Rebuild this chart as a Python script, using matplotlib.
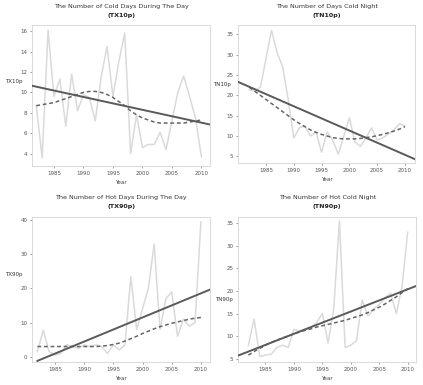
import matplotlib
matplotlib.use("Agg")
import matplotlib.pyplot as plt
import numpy as np

years = list(range(1982, 2011))

# TX10p - cold days
tx10p = [8.7, 3.6, 16.1, 9.6, 11.3, 6.7, 11.8, 8.2, 9.8, 9.5, 7.2, 11.5, 14.5, 9.6,
         13.0, 15.8, 4.0, 7.8, 4.6, 4.9, 4.9, 6.1, 4.4, 7.2, 10.0, 11.6, 9.6, 7.5, 3.7]
tx10p_smooth = [8.7, 8.8, 8.9, 9.0, 9.2, 9.4, 9.6, 9.8, 10.0, 10.1, 10.1, 10.0, 9.8, 9.5,
                9.1, 8.7, 8.2, 7.8, 7.5, 7.3, 7.1, 7.0, 7.0, 7.0, 7.0, 7.0, 7.1, 7.2, 7.3]
tx10p_trend = [10.65, 6.85]   # at trend_x ends
tx10p_trend_x = [1981.3, 2011.5]

# TN10p - cold nights
tn10p = [21.4, 21.0, 22.0, 29.0, 36.0, 30.5, 27.0, 19.0, 9.5, 12.0, 12.5, 10.0, 11.0, 6.0,
         11.0, 9.0, 5.5, 10.0, 14.5, 8.5, 7.5, 9.5, 12.0, 9.0, 9.5, 10.5, 11.5, 13.0, 12.5]
tn10p_smooth = [22.0, 21.0, 20.0, 19.0, 18.0, 17.0, 16.0, 15.0, 14.0, 13.1, 12.3, 11.5, 10.9, 10.4,
                10.0, 9.6, 9.4, 9.3, 9.3, 9.3, 9.4, 9.6, 9.8, 10.1, 10.4, 10.8, 11.2, 11.7, 12.3]
tn10p_trend = [23.3, 4.3]
tn10p_trend_x = [1980.0, 2011.8]

# TX90p - hot days
tx90p = [1.5, 7.8, 1.5, 0.5, 1.0, 3.5, 3.0, 2.5, 3.5, 3.0, 3.5, 3.0, 1.0, 3.5,
         2.0, 3.5, 23.5, 8.0, 14.0, 20.0, 33.0, 8.0, 17.0, 19.0, 6.0, 11.0, 9.0, 10.0, 39.5]
tx90p_smooth = [3.0, 3.0, 3.0, 3.0, 3.0, 3.0, 3.0, 3.0, 3.0, 3.0, 3.0, 3.1, 3.3, 3.6,
                4.0, 4.6, 5.3, 6.0, 6.8, 7.5, 8.2, 8.8, 9.3, 9.8, 10.2, 10.6, 11.0, 11.3, 11.5]
tx90p_trend = [-1.2, 19.7]
tx90p_trend_x = [1982.0, 2011.6]

# TN90p - hot nights
tn90p = [8.0, 13.8, 5.5, 5.8, 6.0, 7.5, 8.0, 7.5, 11.5, 11.0, 11.5, 12.0, 13.0, 15.0,
         8.5, 16.0, 35.5, 7.5, 8.0, 9.0, 18.0, 14.5, 16.0, 17.0, 18.5, 19.5, 15.0, 21.0, 33.0]
tn90p_smooth = [5.8, 6.6, 7.3, 8.0, 8.6, 9.1, 9.6, 10.0, 10.5, 10.9, 11.3, 11.6, 12.0, 12.3,
                12.6, 12.9, 13.2, 13.5, 13.9, 14.3, 14.7, 15.2, 15.8, 16.4, 17.1, 17.9, 18.7, 19.6, 20.5]
tn90p_trend = [5.7, 21.1]
tn90p_trend_x = [1980.2, 2011.5]

panels = [
    ("The Number of Cold Days During The Day", "(TX10p)", "TX10p", tx10p, tx10p_smooth,
     tx10p_trend_x, tx10p_trend, [4, 6, 8, 10, 12, 14, 16], (1981.3, 2011.5), (2.8, 16.6),
     (-0.056, 0.60)),
    ("The Number of Days Cold Night", "(TN10p)", "TN10p", tn10p, tn10p_smooth,
     tn10p_trend_x, tn10p_trend, [5, 10, 15, 20, 25, 30, 35], (1980.0, 2011.8), (3.4, 37.3),
     (-0.04, 0.565)),
    ("The Number of Hot Days During The Day", "(TX90p)", "TX90p", tx90p, tx90p_smooth,
     tx90p_trend_x, tx90p_trend, [0, 10, 20, 30, 40], (1981.1, 2011.6), (-1.5, 41.0),
     (-0.056, 0.60)),
    ("The Number of Hot Cold Night", "(TN90p)", "TN90p", tn90p, tn90p_smooth,
     tn90p_trend_x, tn90p_trend, [5, 10, 15, 20, 25, 30, 35], (1980.2, 2011.5), (4.3, 36.4),
     (-0.03, 0.43)),
]

positions = [
    [0.076, 0.569, 0.421, 0.366],
    [0.563, 0.577, 0.418, 0.358],
    [0.076, 0.060, 0.421, 0.377],
    [0.563, 0.060, 0.421, 0.377],
]

fig = plt.figure(figsize=(4.23, 3.85), dpi=100)
fig.patch.set_facecolor("white")

for pos, (t1, t2, ylab, vals, smooth, trx, tr, yticks, xl, yl, lab_xy) in zip(positions, panels):
    ax = fig.add_axes(pos)
    ax.plot(years, vals, color="#dadada", lw=1.1, zorder=1)
    ax.plot(trx, tr, color="#5a5a5a", lw=1.4, zorder=3)
    ax.plot(years, smooth, color="#666666", lw=1.1, ls=(0, (2.5, 1.8)), zorder=2)
    ax.set_xlim(xl)
    ax.set_ylim(yl)
    ax.set_xticks([1985, 1990, 1995, 2000, 2005, 2010])
    ax.set_yticks(yticks)
    ax.tick_params(labelsize=4, colors="#555555", length=1.5, width=0.4, pad=2)
    for s in ax.spines.values():
        s.set_color("#d5d5d5")
        s.set_linewidth(0.6)
    ax.set_xlabel("Year", fontsize=4, color="#444444", labelpad=3)
    ax.set_ylabel(ylab, fontsize=4, color="#333333", rotation=0, ha="right", va="center")
    ax.yaxis.set_label_coords(*lab_xy)
    ax.text(0.5, 1.115, t1, transform=ax.transAxes, ha="center", va="bottom",
            fontsize=4.6, color="#333333")
    ax.text(0.5, 1.05, t2, transform=ax.transAxes, ha="center", va="bottom",
            fontsize=4.6, color="#222222", fontweight="bold")

fig.savefig("out.png", dpi=100)
